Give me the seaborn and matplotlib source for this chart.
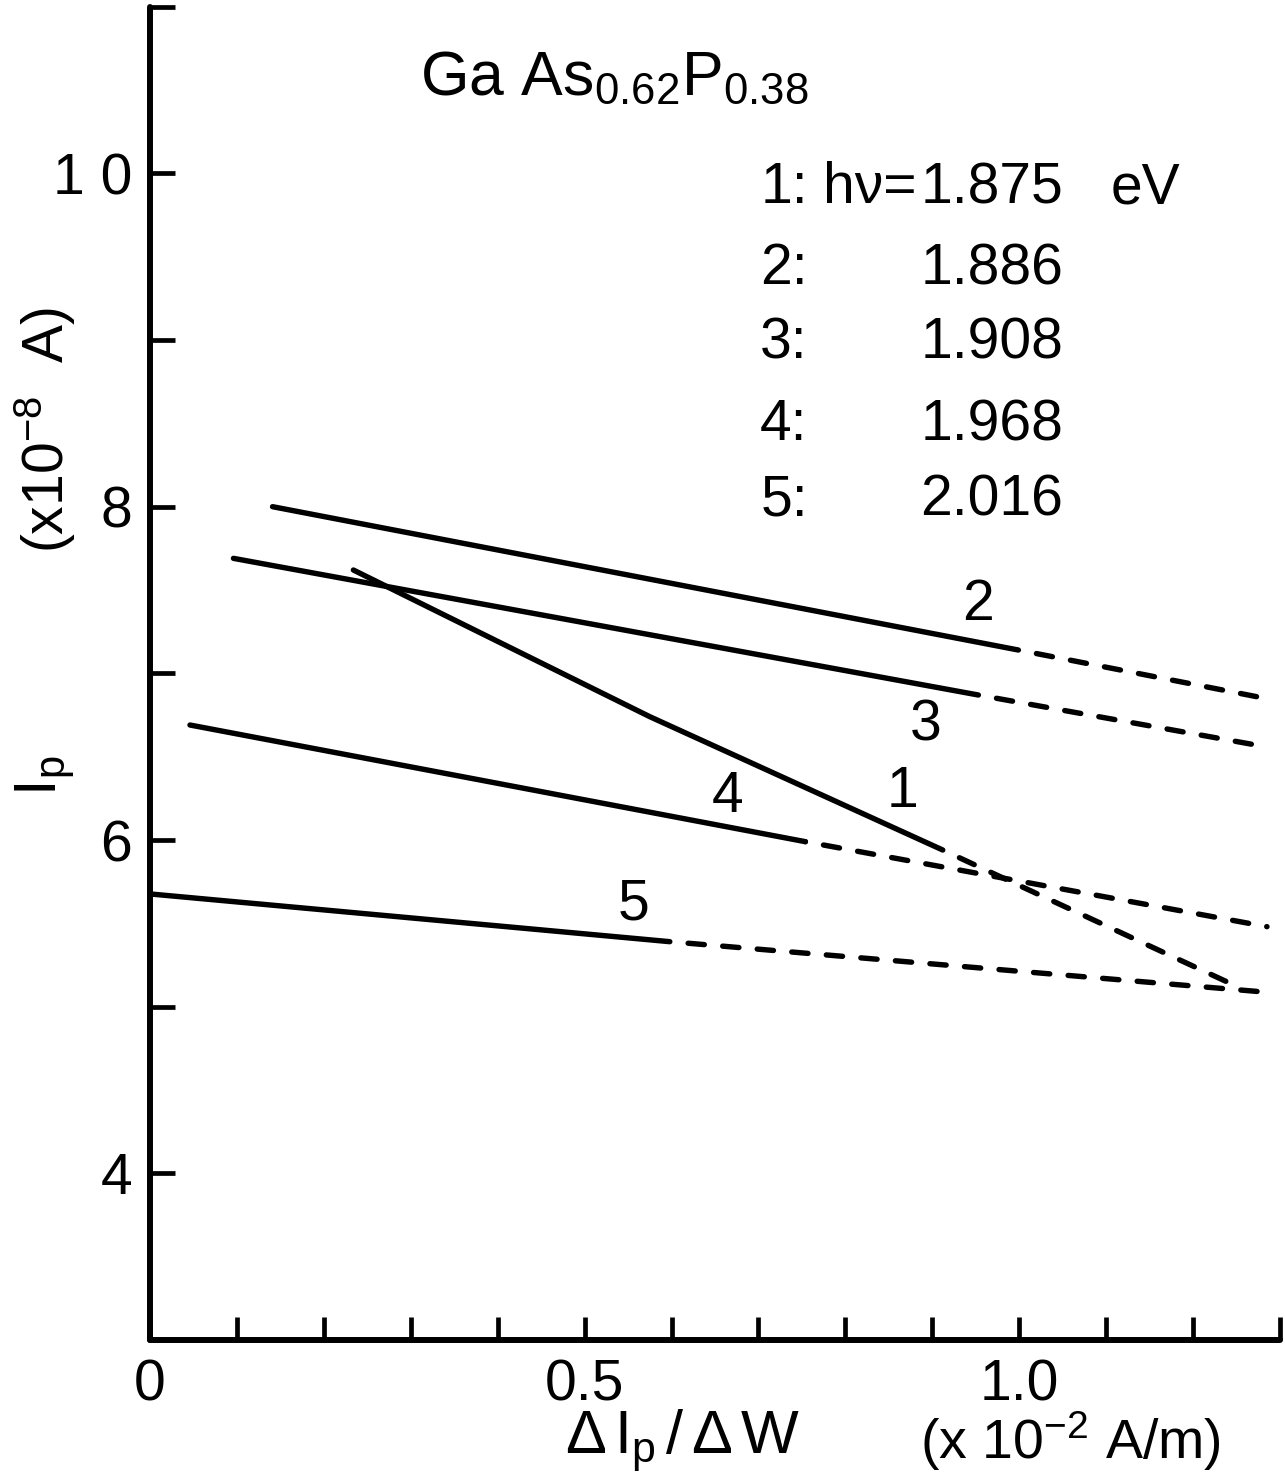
import numpy as np
import pandas as pd
import matplotlib
matplotlib.use("Agg")
import matplotlib.pyplot as plt
import seaborn as sns

# Photocurrent I_p versus dI_p/dW for GaAs0.62P0.38, five photon energies.
curve_ids = ["1", "2", "3", "4", "5"]
photon_energy = ["1.875", "1.886", "1.908", "1.968", "2.016"]

# measured part of each curve (solid)
c1_x = [0.234, 0.575, 0.912]
c1_y = [7.62, 6.74, 5.94]
c2_x = [0.141, 0.999]
c2_y = [8.00, 7.14]
c3_x = [0.096, 0.953]
c3_y = [7.69, 6.87]
c4_x = [0.046, 0.754]
c4_y = [6.69, 5.99]
c5_x = [0.003, 0.598]
c5_y = [5.675, 5.39]

# extrapolated part of each curve (dashed)
c1_ext_x = [0.912, 1.251]
c1_ext_y = [5.94, 5.12]
c2_ext_x = [0.999, 1.283]
c2_ext_y = [7.14, 6.85]
c3_ext_x = [0.953, 1.283]
c3_ext_y = [6.87, 6.56]
c4_ext_x = [0.754, 1.285]
c4_ext_y = [5.99, 5.48]
c5_ext_x = [0.598, 1.277]
c5_ext_y = [5.39, 5.09]

x_ticks = [0.0, 0.1, 0.2, 0.3, 0.4, 0.5, 0.6, 0.7, 0.8, 0.9, 1.0, 1.1, 1.2, 1.3]
x_ticklabels = ["0", "", "", "", "", "0.5", "", "", "", "", "1.0", "", "", ""]
y_ticks = [4, 5, 6, 7, 8, 9, 10, 11]
y_ticklabels = ["4", "", "6", "", "8", "", "1 0", ""]

solid = [(c1_x, c1_y), (c2_x, c2_y), (c3_x, c3_y), (c4_x, c4_y), (c5_x, c5_y)]
ext = [(c1_ext_x, c1_ext_y), (c2_ext_x, c2_ext_y), (c3_ext_x, c3_ext_y),
       (c4_ext_x, c4_ext_y), (c5_ext_x, c5_ext_y)]

rows = []
for cid, (sx, sy), (ex, ey) in zip(curve_ids, solid, ext):
    for xv, yv in zip(sx, sy):
        rows.append(dict(x=xv, y=yv, seg=cid + "s", part="measured"))
    for xv, yv in zip(ex, ey):
        rows.append(dict(x=xv, y=yv, seg=cid + "e", part="extrapolated"))
df = pd.DataFrame(rows)

sns.set_theme(style="white")
plt.rcParams["font.family"] = ["Liberation Sans", "DejaVu Sans"]
plt.rcParams["mathtext.fontset"] = "custom"
plt.rcParams["mathtext.rm"] = "Liberation Sans"
plt.rcParams["mathtext.it"] = "Liberation Sans:italic"
plt.rcParams["mathtext.default"] = "regular"
plt.rcParams["text.color"] = "black"

W, H = 1285, 1472
fig = plt.figure(figsize=(W / 100, H / 100), dpi=100)
ax = fig.add_axes([150 / W, (H - 1340) / H, 1130 / W, (1340 - 6.7) / H])

LW = 3.9
DASH_ON, DASH_OFF = 3.0, 3.4
sns.lineplot(data=df, x="x", y="y", units="seg", estimator=None, sort=False,
             style="part", dashes={"measured": "", "extrapolated": (DASH_ON, DASH_OFF)},
             color="black", linewidth=LW, legend=False, ax=ax,
             solid_capstyle="round", dash_capstyle="round")

# extrapolations begin with a gap after the end of the measured segment
for line in ax.lines:
    ls = line.get_linestyle()
    if ls not in ("-", "solid"):
        line.set_linestyle((DASH_ON, (DASH_ON, DASH_OFF)))

ax.set_xlim(0, 1.3)
ax.set_ylim(3, 11)
ax.set_xticks(x_ticks)
ax.set_xticklabels(x_ticklabels)
ax.set_yticks(y_ticks)
ax.set_yticklabels(y_ticklabels)
ax.set_xlabel("")
ax.set_ylabel("")
ax.tick_params(axis="x", bottom=True, direction="in", length=16.5, width=3.4,
               color="black", labelsize=41, pad=13, labelcolor="black")
ax.tick_params(axis="y", left=True, direction="in", length=18, width=3.4,
               color="black", labelsize=41, pad=13, labelcolor="black")
for side in ("top", "right"):
    ax.spines[side].set_visible(False)
for side in ("left", "bottom"):
    ax.spines[side].set_color("black")
    ax.spines[side].set_linewidth(4.3)
    ax.spines[side].set_capstyle("round")

# curve numbers
label_pos = {"1": (0.866, 6.20), "2": (0.953, 7.32), "3": (0.892, 6.60),
             "4": (0.665, 6.17), "5": (0.556, 5.525)}
for cid in curve_ids:
    lx, ly = label_pos[cid]
    ax.text(lx, ly, cid, fontsize=41, ha="center", va="baseline")

# sample name
ax.text(0.311, 10.47, r"Ga As$_{0.62}$P$_{0.38}$", fontsize=45,
        ha="left", va="baseline")

# photon energy key
row_y = [9.82, 9.334, 8.89, 8.40, 7.95]
for i, (cid, ev) in enumerate(zip(curve_ids, photon_energy)):
    ax.text(0.702, row_y[i], cid + ":", fontsize=41, ha="left", va="baseline")
    ax.text(0.886, row_y[i], ev, fontsize=41, ha="left", va="baseline")
ax.text(0.882, row_y[0], "hν=", fontsize=41, ha="right", va="baseline")
ax.text(1.105, row_y[0], "eV", fontsize=41, ha="left", va="baseline")

# axis titles
fig.text(0.035, 0.708, r"(x10$^{-8}$  A)", fontsize=41, rotation=90,
         ha="center", va="center")
fig.text(0.035, 0.473, r"I$_{p}$", fontsize=43, rotation=90,
         ha="center", va="center")
fig.text(0.531, 0.021, r"$Δ\,I_{p}\,/\,Δ\,W$", fontsize=44, ha="center", va="center")
fig.text(0.833, 0.021, r"(x 10$^{-2}$ A/m)", fontsize=40, ha="center", va="center")

fig.savefig("out.png", dpi=100, facecolor="white")
